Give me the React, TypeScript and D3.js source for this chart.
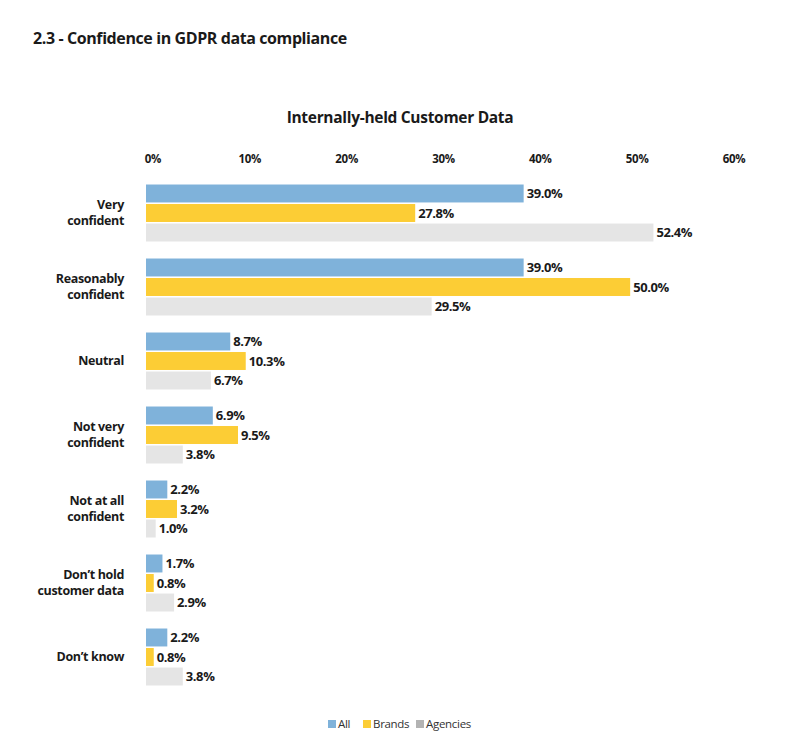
import React from "react";
import * as d3 from "d3";

const categories = [
  ["Very", "confident"],
  ["Reasonably", "confident"],
  ["Neutral"],
  ["Not very", "confident"],
  ["Not at all", "confident"],
  ["Don\u2019t hold", "customer data"],
  ["Don\u2019t know"],
];
const seriesNames = ["All", "Brands", "Agencies"];
const allValues = [39.0, 39.0, 8.7, 6.9, 2.2, 1.7, 2.2];
const brandsValues = [27.8, 50.0, 10.3, 9.5, 3.2, 0.8, 0.8];
const agenciesValues = [52.4, 29.5, 6.7, 3.8, 1.0, 2.9, 3.8];
const tickValues = [0, 10, 20, 30, 40, 50, 60];
const barColors = ["#7fb2da", "#fccd35", "#e5e5e5"];
const legendColors = ["#7fb2da", "#fccd35", "#b3b3b3"];

const FONT = "'Open Sans', 'Noto Sans', sans-serif";

export default function App() {
  const W = 799, H = 746;
  const x = d3.scaleLinear().domain([0, 60]).range([146, 727]);
  const series = [allValues, brandsValues, agenciesValues];
  const y0 = d3
    .scaleBand<number>()
    .domain(d3.range(categories.length))
    .range([176, 694])
    .paddingInner(0.23)
    .paddingOuter(0.115);
  const y1 = d3
    .scaleBand<number>()
    .domain([0, 1, 2])
    .range([0, y0.bandwidth()])
    .paddingInner(0.08);

  return (
    <svg
      width={W}
      height={H}
      style={{ position: "absolute", left: 0, top: 0, background: "#fff" }}
      fontFamily={FONT}
    >
      <text x={33} y={44} fontSize={16} fontWeight={700} fill="#1a1a1a" letterSpacing={-0.4}>
        2.3 - Confidence in GDPR data compliance
      </text>
      <text x={400} y={123} fontSize={15.5} fontWeight={700} fill="#1a1a1a" textAnchor="middle" letterSpacing={-0.3}>
        Internally-held Customer Data
      </text>
      {tickValues.map((t) => (
        <text key={t} x={x(t) + 7} y={163} fontSize={11.5} fontWeight={700} fill="#1a1a1a" textAnchor="middle" letterSpacing={-0.3}>
          {t}%
        </text>
      ))}
      {categories.map((lines, i) => {
        const gy = (y0(i) as number);
        const cy = gy + y0.bandwidth() / 2;
        const n = lines.length;
        return (
          <g key={i}>
            {lines.map((ln, k) => (
              <text
                key={k}
                x={124}
                y={cy + (k - (n - 1) / 2) * 16 + 3.5}
                fontSize={12.5}
                fontWeight={700}
                fill="#1a1a1a"
                textAnchor="end"
                letterSpacing={-0.35}
              >
                {ln}
              </text>
            ))}
            {series.map((vals, s) => {
              const by = gy + (y1(s) as number);
              const bw = x(vals[i]) - x(0);
              return (
                <g key={s}>
                  <rect x={x(0)} y={by} width={bw} height={y1.bandwidth()} fill={barColors[s]} />
                  <text
                    x={x(vals[i]) + 3}
                    y={by + y1.bandwidth() / 2 + 4.5}
                    fontSize={13}
                    fontWeight={700}
                    fill="#1a1a1a"
                    letterSpacing={-0.4}
                  >
                    {vals[i].toFixed(1)}%
                  </text>
                </g>
              );
            })}
          </g>
        );
      })}
      {(() => {
        const pos = [328, 363, 416];
        return seriesNames.map((name, s) => (
          <g key={name}>
            <rect x={pos[s]} y={720} width={8} height={8} fill={legendColors[s]} />
            <text x={pos[s] + 10} y={728} fontSize={11.5} fill="#333" letterSpacing={-0.3}>
              {name}
            </text>
          </g>
        ));
      })()}
    </svg>
  );
}
